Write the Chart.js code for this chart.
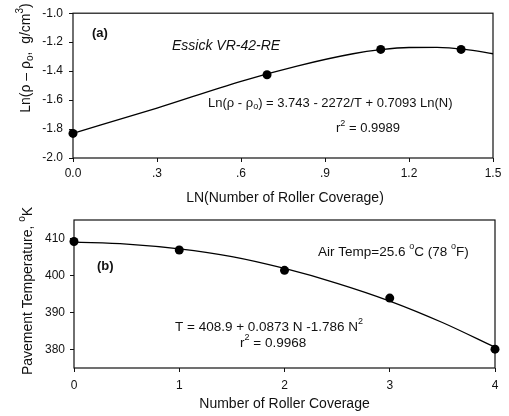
<!DOCTYPE html>
<html>
<head>
<meta charset="utf-8">
<script src="https://cdn.jsdelivr.net/npm/chart.js@4"></script>
<style>
  html, body { margin: 0; padding: 0; background: #fff; }
  #wrap { position: relative; width: 509px; height: 416px; }
  .panel { position: absolute; left: 0; width: 509px; }
  #top { top: 0; height: 205px; }
  #bottom { top: 205px; height: 211px; }
</style>
</head>
<body>
<div id="wrap">
  <div class="panel" id="top"><canvas id="densityChart" width="509" height="205"></canvas></div>
  <div class="panel" id="bottom"><canvas id="tempChart" width="509" height="211"></canvas></div>
</div>
<script>
// (a) log density increase vs log of roller coverages
const lnCoverage = [0, 0.693, 1.099, 1.386];
const lnDensity = [-1.83, -1.425, -1.25, -1.25];
const lnFitX = [0, 0.3, 0.6, 0.8, 1.0, 1.1, 1.2, 1.3, 1.4, 1.5];
const lnFitY = [-1.83, -1.655, -1.47, -1.365, -1.28, -1.252, -1.237, -1.236, -1.25, -1.28];
const lnTicks = [0, 0.3, 0.6, 0.9, 1.2, 1.5];
const lnTickLabels = ['0.0', '.3', '.6', '.9', '1.2', '1.5'];
const densityTicks = [-2.0, -1.8, -1.6, -1.4, -1.2, -1.0];

// (b) pavement temperature vs number of roller coverages
const coverage = [0, 1, 2, 3, 4];
const pavementTemp = [409.2, 406.9, 401.4, 393.9, 380.1];
const tempFitX = [0, 0.5, 1, 1.5, 2, 2.5, 3, 3.5, 4];
const tempFitY = [409.0, 408.5, 407.2, 405.1, 401.9, 397.9, 393.1, 387.3, 380.6];
const coverageTicks = [0, 1, 2, 3, 4];
const tempTicks = [380, 390, 400, 410];

const FAMILY = '"Liberation Sans", Arial, Helvetica, sans-serif';
const INK = '#111';

const pts = (xs, ys) => xs.map((x, i) => ({ x, y: ys[i] }));

// draw a run of text pieces with sub/superscripts
function drawRich(ctx, parts, x, y, size, opts = {}) {
  const style = opts.style || '';
  const fontFor = k => `${style} ${k ? Math.round(size * 0.7) : size}px ${FAMILY}`;
  ctx.save();
  let total = 0;
  const widths = parts.map(([t, k]) => { ctx.font = fontFor(k); const w = ctx.measureText(t).width; total += w; return w; });
  ctx.translate(x, y);
  if (opts.rotate) ctx.rotate(-Math.PI / 2);
  ctx.fillStyle = INK;
  ctx.textBaseline = 'middle';
  ctx.textAlign = 'left';
  let cx = opts.align === 'center' ? -total / 2 : 0;
  parts.forEach(([t, k], i) => {
    ctx.font = fontFor(k);
    const dy = k === 'sub' ? size * 0.28 : k === 'sup' ? -size * 0.38 : 0;
    ctx.fillText(t, cx, dy);
    cx += widths[i];
  });
  ctx.restore();
}

const framePlugin = {
  id: 'frame',
  beforeDatasetsDraw(chart) {
    const { ctx, chartArea: a } = chart;
    ctx.save();
    ctx.strokeStyle = INK;
    ctx.lineWidth = 1.2;
    ctx.strokeRect(a.left, a.top, a.right - a.left, a.bottom - a.top);
    ctx.restore();
  }
};

function textPlugin(items) {
  return {
    id: 'texts',
    afterDraw(chart) {
      items.forEach(it => drawRich(chart.ctx, it.parts, it.x, it.y, it.size, it));
    }
  };
}

function axis(min, max, tickValues, labelFn, opts) {
  return {
    type: 'linear', min, max,
    afterBuildTicks: s => { s.ticks = tickValues.map(v => ({ value: v })); },
    afterFit: s => { if (opts.width) s.width = opts.width; if (opts.height) s.height = opts.height; },
    ticks: {
      autoSkip: false, maxRotation: 0, color: INK, padding: opts.pad,
      font: { family: FAMILY, size: 12 },
      callback: labelFn
    },
    grid: { drawOnChartArea: false, drawTicks: true, tickLength: 4, color: INK, lineWidth: 1 },
    border: { display: false }
  };
}

function datasets(px, py, fx, fy) {
  return [
    { type: 'scatter', data: pts(px, py), pointRadius: 4.5, pointBackgroundColor: '#000', pointBorderColor: '#000', pointBorderWidth: 0, clip: false, order: 0 },
    { type: 'line', data: pts(fx, fy), borderColor: '#000', borderWidth: 1.3, pointRadius: 0, cubicInterpolationMode: 'monotone', fill: false, clip: false, order: 1 }
  ];
}

const common = {
  responsive: false,
  animation: false,
  events: [],
  plugins: { legend: { display: false }, tooltip: { enabled: false } }
};

new Chart(document.getElementById('densityChart'), {
  data: { datasets: datasets(lnCoverage, lnDensity, lnFitX, lnFitY) },
  options: {
    ...common,
    layout: { padding: { left: 0, right: 16, top: 10, bottom: 0 } },
    scales: {
      x: axis(0, 1.5, lnTicks, (v, i) => lnTickLabels[i], { height: 47, pad: 4 }),
      y: axis(-2.0, -1.0, densityTicks, v => v.toFixed(1), { width: 73, pad: 6 })
    }
  },
  plugins: [framePlugin, textPlugin([
    { parts: [['(a)']], x: 92, y: 33, size: 13, style: 'bold' },
    { parts: [['Essick VR-42-RE']], x: 172, y: 46, size: 14, style: 'italic' },
    { parts: [['Ln(ρ - ρ'], ['o', 'sub'], [') = 3.743 - 2272/T + 0.7093 Ln(N)']], x: 208, y: 103, size: 13 },
    { parts: [['r'], ['2', 'sup'], [' = 0.9989']], x: 336, y: 128, size: 13 },
    { parts: [['LN(Number of Roller Coverage)']], x: 285, y: 198, size: 14, align: 'center' },
    { parts: [['Ln(ρ – ρ'], ['o', 'sub'], [',  g/cm'], ['3', 'sup'], [')']], x: 26, y: 58, size: 14, align: 'center', rotate: true }
  ])]
});

new Chart(document.getElementById('tempChart'), {
  data: { datasets: datasets(coverage, pavementTemp, tempFitX, tempFitY) },
  options: {
    ...common,
    layout: { padding: { left: 0, right: 14, top: 15, bottom: 0 } },
    scales: {
      x: axis(0, 4, coverageTicks, v => String(v), { height: 48, pad: 6 }),
      y: axis(375, 415, tempTicks, v => String(v), { width: 74, pad: 5 })
    }
  },
  plugins: [framePlugin, textPlugin([
    { parts: [['(b)']], x: 97, y: 61, size: 13, style: 'bold' },
    { parts: [['Air Temp=25.6 '], ['o', 'sup'], ['C (78 '], ['o', 'sup'], ['F)']], x: 318, y: 47, size: 13.5 },
    { parts: [['T = 408.9 + 0.0873 N -1.786 N'], ['2', 'sup']], x: 175, y: 122, size: 13.5 },
    { parts: [['r'], ['2', 'sup'], [' = 0.9968']], x: 240, y: 138, size: 13.5 },
    { parts: [['Number of Roller Coverage']], x: 284.5, y: 199, size: 14, align: 'center' },
    { parts: [['Pavement Temperature, '], ['o', 'sup'], ['K']], x: 28, y: 86, size: 14, align: 'center', rotate: true }
  ])]
});
</script>
</body>
</html>
